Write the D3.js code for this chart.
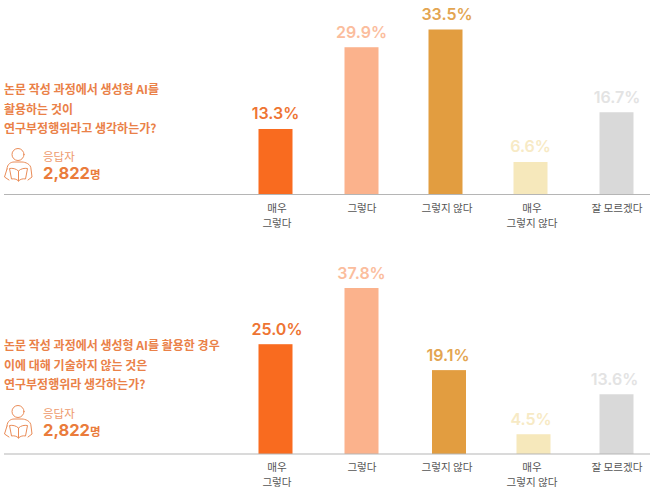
<!DOCTYPE html>
<html>
<head>
<meta charset="utf-8">
<script src="https://cdn.jsdelivr.net/npm/d3@7"></script>
<style>
  html, body { margin: 0; padding: 0; background: #fff; }
  text { font-family: "Noto Sans CJK KR", "Noto Sans", sans-serif; }
  .value { font-family: Inter, "Noto Sans", sans-serif; font-weight: 600; font-size: 16px; }
  .question { font-weight: 700; font-size: 12px; fill: #ea8148; }
  .axis text { font-size: 10.6px; fill: #555; }
</style>
</head>
<body>
<div id="chart"></div>
<script>
// the data
var categories = ["매우\n그렇다", "그렇다", "그렇지 않다", "매우\n그렇지 않다", "잘 모르겠다"];
var valuesTop = [13.3, 29.9, 33.5, 6.6, 16.7];
var valuesBottom = [25.0, 37.8, 19.1, 4.5, 13.6];
var questionTop = ["논문 작성 과정에서 생성형 AI를", "활용하는 것이", "연구부정행위라고 생각하는가?"];
var questionBottom = ["논문 작성 과정에서 생성형 AI를 활용한 경우", "이에 대해 기술하지 않는 것은", "연구부정행위라 생각하는가?"];
var respondentLabel = "응답자";
var respondentCount = "2,822";
var respondentUnit = "명";

var barColors = ["#f96b1f", "#fbb28c", "#e29d40", "#f6e8bb", "#d9d9d9"];
var labelColors = ["#ee7432", "#fbbd9d", "#e3a551", "#f7eac5", "#e3e3e3"];

var width = 650, height = 492;

var svg = d3.select("#chart")
  .append("svg")
    .attr("width", width)
    .attr("height", height)
    .style("display", "block");

// same x scale for both panels
var x = d3.scaleBand()
  .domain(categories)
  .range([233, 658])
  .paddingInner(0.6)
  .paddingOuter(0.3);

function drawPanel(opts) {
  var g = svg.append("g");

  // one scale per panel, the two panels are not on the same px per %
  var y = d3.scaleLinear()
    .domain([0, opts.maxValue])
    .range([opts.baseline, opts.baseline - opts.maxPx]);

  var rows = categories.map(function(c, i) {
    return { cat: c, value: opts.values[i], i: i };
  });

  g.selectAll("rect")
    .data(rows)
    .enter()
    .append("rect")
      .attr("x", function(d) { return x(d.cat) + opts.nudge[d.i]; })
      .attr("y", function(d) { return y(d.value); })
      .attr("width", x.bandwidth())
      .attr("height", function(d) { return opts.baseline - y(d.value); })
      .style("fill", function(d) { return barColors[d.i]; });

  g.selectAll(".value")
    .data(rows)
    .enter()
    .append("text")
      .attr("class", "value")
      .attr("text-anchor", "middle")
      .attr("x", function(d) { return x(d.cat) + x.bandwidth() / 2 + opts.labelNudge[d.i]; })
      .attr("y", function(d) { return y(d.value) - 9.5; })
      .style("fill", function(d) { return labelColors[d.i]; })
      .text(function(d) { return d.value.toFixed(1) + "%"; });

  // axis, labels are split on the newline
  var axis = g.append("g")
    .attr("class", "axis")
    .attr("transform", "translate(0," + opts.baseline + ")")
    .call(d3.axisBottom(x).tickSize(0).tickPadding(0));

  axis.select(".domain").remove();

  axis.selectAll(".tick text")
    .attr("dy", null)
    .attr("y", 0)
    .each(function(d) {
      var t = d3.select(this).text(null);
      d.split("\n").forEach(function(line, k) {
        t.append("tspan")
          .attr("x", 1.5)
          .attr("y", 17 + k * 15)
          .text(line);
      });
    });

  g.append("line")
    .attr("x1", 4)
    .attr("x2", width)
    .attr("y1", opts.baseline)
    .attr("y2", opts.baseline)
    .style("stroke", "#b5b5b5")
    .style("stroke-width", 1);

  // question
  g.selectAll(".question")
    .data(opts.question)
    .enter()
    .append("text")
      .attr("class", "question")
      .attr("x", 4)
      .attr("y", function(d, i) { return opts.questionY + i * 19.5; })
      .text(function(d) { return d; });

  // respondents
  g.append("text")
    .attr("x", 43)
    .attr("y", opts.iconY + 13)
    .style("font-size", "11.5px")
    .style("fill", "#ee9a6c")
    .text(respondentLabel);

  var count = g.append("text")
    .attr("x", 43)
    .attr("y", opts.iconY + 31)
    .style("fill", "#ea7c3c");
  count.append("tspan")
    .style("font-family", "Inter, sans-serif")
    .style("font-weight", 700)
    .style("font-size", "16.5px")
    .text(respondentCount);
  count.append("tspan")
    .style("font-weight", 700)
    .style("font-size", "11.5px")
    .text(respondentUnit);

  // reader icon
  var icon = g.append("g")
    .attr("transform", "translate(4," + opts.iconY + ")")
    .style("fill", "none")
    .style("stroke", "#ea8c58")
    .style("stroke-width", 1)
    .style("stroke-linecap", "round")
    .style("stroke-linejoin", "round");
  icon.append("circle").attr("cx", 14).attr("cy", 6.5).attr("r", 6);
  icon.append("path").attr("d", "M3 21 C3 16 7 14 10 14 L18 14 C21 14 27 16 27 21 L28 29 L24 32");
  icon.append("path").attr("d", "M3 21 L0.5 29 L5 32");
  icon.append("path").attr("d", "M14.5 23 C12 20.5 8.5 20 5.5 20.5 L7.5 31 C10 30.5 12.5 31 14.5 33 C16.5 31 19 30.5 21.5 31 L23.5 20.5 C20.5 20 17 20.5 14.5 23 L14.5 33");
}

drawPanel({
  values: valuesTop,
  question: questionTop,
  baseline: 194.5,
  maxValue: 33.5,
  maxPx: 165,
  nudge: [0, 1, 0, 0, 1],
  labelNudge: [0, 1, 1.5, 0, 1.5],
  questionY: 94,
  iconY: 148
});

drawPanel({
  values: valuesBottom,
  question: questionBottom,
  baseline: 454,
  maxValue: 37.8,
  maxPx: 166,
  nudge: [0, 1, 3.5, 3, 1],
  labelNudge: [1.5, 1, 2.5, 0.5, -1],
  questionY: 350,
  iconY: 405
});
</script>
</body>
</html>
